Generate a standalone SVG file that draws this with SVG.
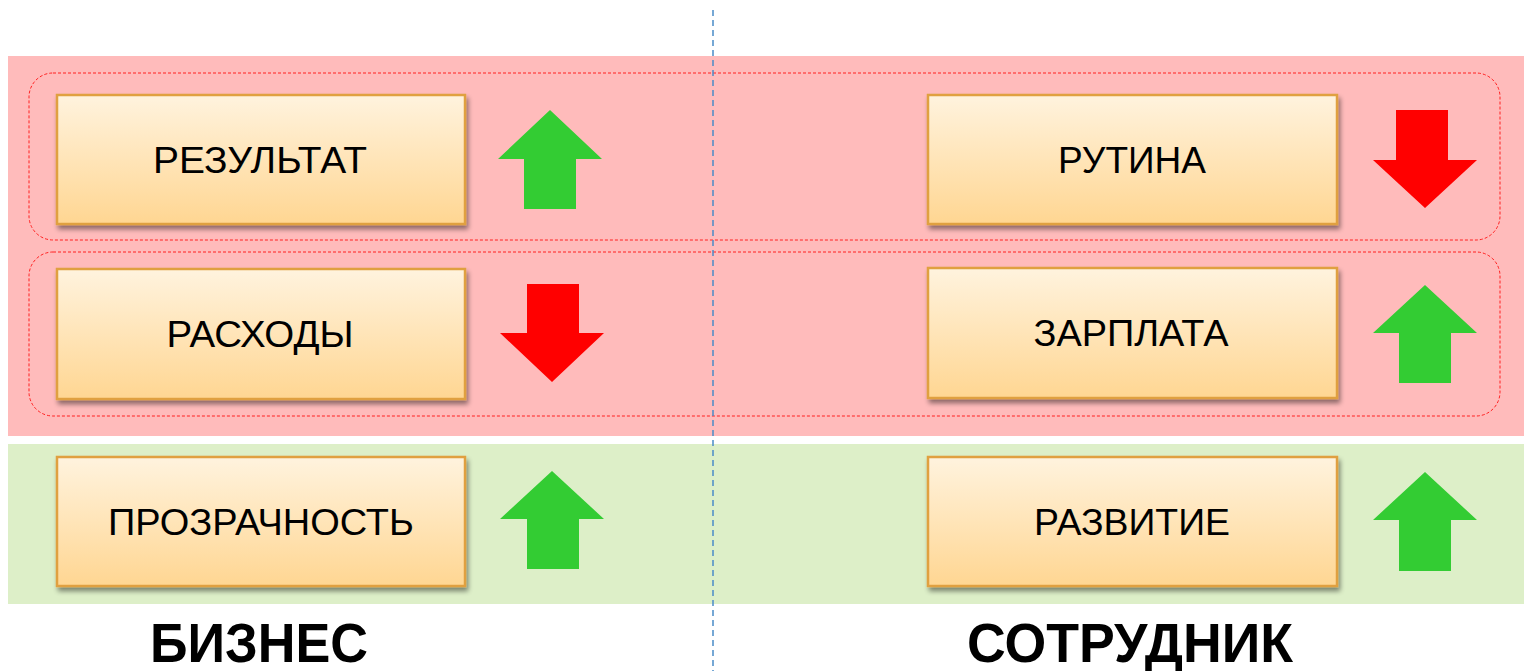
<svg xmlns="http://www.w3.org/2000/svg" width="1524" height="671" viewBox="0 0 1524 671">
<defs>
<linearGradient id="bg" x1="0" y1="0" x2="0" y2="1">
<stop offset="0" stop-color="#FFF3DE"/>
<stop offset="1" stop-color="#FFD692"/>
</linearGradient>
<filter id="sh" x="-5%" y="-5%" width="112%" height="125%">
<feGaussianBlur in="SourceAlpha" stdDeviation="2.5"/>
<feOffset dx="2" dy="4" result="b"/>
<feComponentTransfer><feFuncA type="linear" slope="0.45"/></feComponentTransfer>
<feMerge><feMergeNode/><feMergeNode in="SourceGraphic"/></feMerge>
</filter>
<style>
.box{fill:url(#bg);stroke:#E0A040;stroke-width:2.5;filter:url(#sh)}
.lbl{font-family:"Liberation Sans",Arial,sans-serif;font-size:37px;fill:#000;text-anchor:middle;dominant-baseline:central}
.ttl{font-family:"Liberation Sans",Arial,sans-serif;font-size:56px;font-weight:bold;fill:#000;text-anchor:middle}
.grp{fill:none;stroke:#FF2020;stroke-width:1;stroke-dasharray:3 2}
.up{fill:#33CC33}
.dn{fill:#FF0000}
</style>
</defs>
<rect x="0" y="0" width="1524" height="671" fill="#FFFFFF"/>
<g id="bands">
<rect x="8" y="56" width="1516" height="380" fill="#FFBBBB"/>
<rect x="8" y="444" width="1516" height="160" fill="#DDEFC8"/>
<rect class="grp" x="29" y="73" width="1471" height="167" rx="24"/>
<rect class="grp" x="29" y="252" width="1471" height="164" rx="24"/>
</g>
<g id="connectors">
<line x1="713" y1="10" x2="713" y2="671" stroke="#4A8CC8" stroke-width="1.5" stroke-dasharray="6 4"/>
</g>
<g id="n-rezultat">
<rect class="box" x="57" y="95" width="408" height="129"/>
<text class="lbl" x="260" y="160" textLength="214" lengthAdjust="spacingAndGlyphs">РЕЗУЛЬТАТ</text>
<polygon class="up" points="550,110 602,159 576,159 576,209 524,209 524,159 498,159"/>
</g>
<g id="n-rutina">
<rect class="box" x="928" y="95" width="409" height="129"/>
<text class="lbl" x="1132" y="160" textLength="148" lengthAdjust="spacingAndGlyphs">РУТИНА</text>
<polygon class="dn" points="1396,110 1448,110 1448,160 1477,160 1425,208 1373,160 1396,160"/>
</g>
<g id="n-rashody">
<rect class="box" x="57" y="269" width="408" height="130"/>
<text class="lbl" x="260" y="334" textLength="187" lengthAdjust="spacingAndGlyphs">РАСХОДЫ</text>
<polygon class="dn" points="527,284 579,284 579,333 604,333 552,382 500,333 527,333"/>
</g>
<g id="n-zarplata">
<rect class="box" x="928" y="268" width="409" height="130"/>
<text class="lbl" x="1131" y="333" textLength="195" lengthAdjust="spacingAndGlyphs">ЗАРПЛАТА</text>
<polygon class="up" points="1425,285 1477,333 1451,333 1451,383 1399,383 1399,333 1373,333"/>
</g>
<g id="n-prozrachnost">
<rect class="box" x="57" y="457" width="408" height="129"/>
<text class="lbl" x="261" y="522" textLength="306" lengthAdjust="spacingAndGlyphs">ПРОЗРАЧНОСТЬ</text>
<polygon class="up" points="552,471 604,519 579,519 579,569 527,569 527,519 500,519"/>
</g>
<g id="n-razvitie">
<rect class="box" x="928" y="457" width="409" height="129"/>
<text class="lbl" x="1132" y="522" textLength="196" lengthAdjust="spacingAndGlyphs">РАЗВИТИЕ</text>
<polygon class="up" points="1425,472 1477,520 1451,520 1451,571 1399,571 1399,520 1373,520"/>
</g>
<g id="titles">
<text class="ttl" x="259" y="662" textLength="218" lengthAdjust="spacingAndGlyphs">БИЗНЕС</text>
<text class="ttl" x="1130" y="662" textLength="326" lengthAdjust="spacingAndGlyphs">СОТРУДНИК</text>
</g>
</svg>
